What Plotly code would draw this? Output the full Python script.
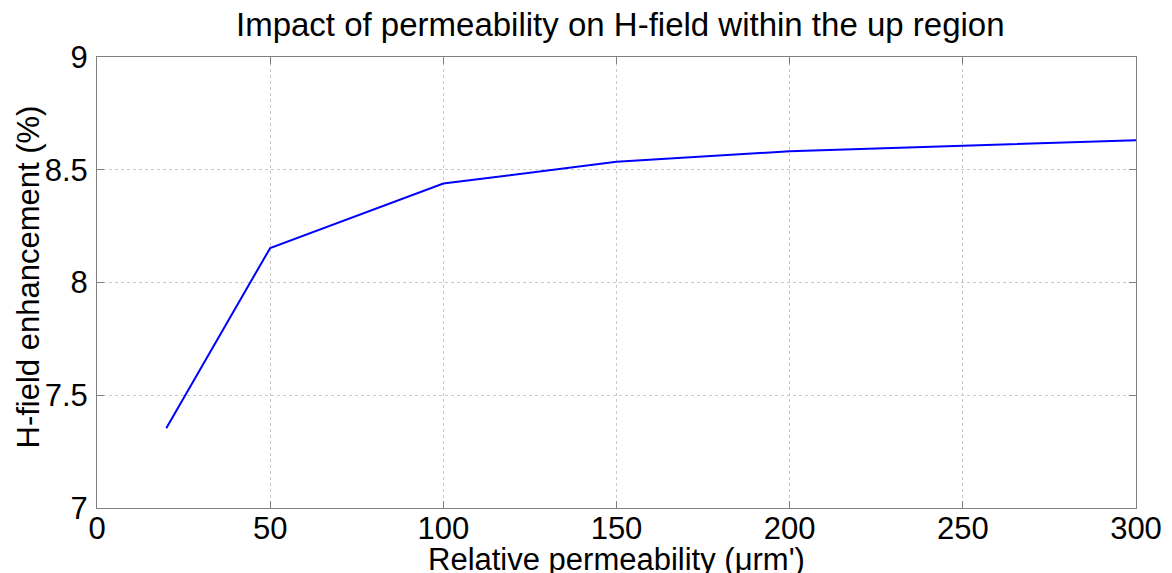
import plotly.graph_objects as go

permeability = [20, 50, 100, 150, 200, 250, 300]
enhancement = [7.354, 8.153, 8.439, 8.535, 8.582, 8.605, 8.631]

x_ticks = [0, 50, 100, 150, 200, 250, 300]
y_ticks = [7, 7.5, 8, 8.5, 9]
y_tick_text = ["7", "7.5", "8", "8.5", "9"]

title_text = "Impact of permeability on H-field within the up region"
x_title = "Relative permeability (μrm')"
y_title = "H-field enhancement (%)"

FONT = "Liberation Sans, Arial, sans-serif"
FS = 31

fig = go.Figure()
fig.add_trace(go.Scatter(
    x=permeability, y=enhancement, mode="lines",
    line=dict(color="#0000ff", width=2), showlegend=False,
))

axis_common = dict(
    showline=True, mirror="ticks", linecolor="#808080", linewidth=1,
    ticks="inside", ticklen=7, tickcolor="#808080",
    showgrid=True, gridcolor="#c8c8c8", griddash="dot", gridwidth=1,
    zeroline=False, automargin=False,
    tickfont=dict(family=FONT, size=FS, color="#000"),
)

# page body has an 8px default margin; compensate so the plot area sits
# at x 97..1136, y 57..508 in the window
fig.update_layout(
    width=1164, height=565,
    margin=dict(l=89, r=36, t=49, b=65),
    paper_bgcolor="white", plot_bgcolor="white",
    title=dict(text=title_text,
               x=0.526, xanchor="center", y=0.9717, yanchor="middle",
               font=dict(family=FONT, size=33, color="#000")),
    xaxis=dict(range=[0, 300], tickvals=x_ticks, ticklabelstandoff=-7,
               **axis_common),
    yaxis=dict(range=[7, 9], tickvals=y_ticks, ticktext=y_tick_text,
               ticklabelstandoff=2, **axis_common),
    annotations=[
        dict(text=x_title, xref="paper", yref="paper", x=0.5, y=0,
             xanchor="center", yanchor="middle", yshift=-51, showarrow=False,
             font=dict(family=FONT, size=FS, color="#000")),
        dict(text=y_title, xref="paper", yref="paper", x=0, y=0.5,
             xanchor="center", yanchor="middle", xshift=-69, yshift=5,
             textangle=-90, showarrow=False,
             font=dict(family=FONT, size=FS, color="#000")),
    ],
)

fig.write_html("out.html")
